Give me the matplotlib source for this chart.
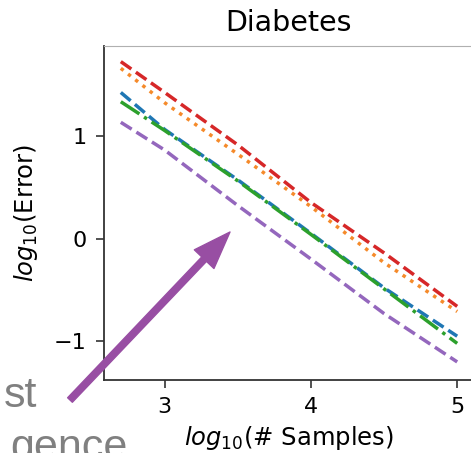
import matplotlib
matplotlib.use("Agg")
import matplotlib.pyplot as plt

# values
log_n = [2.7, 3.0, 3.5, 4.0, 4.5, 5.0]
err_blue = [1.42, 1.06, 0.57, 0.05, -0.48, -0.95]
err_orange = [1.655, 1.32, 0.82, 0.31, -0.235, -0.71]
err_green = [1.33, 1.05, 0.56, 0.04, -0.49, -1.02]
err_red = [1.72, 1.42, 0.91, 0.35, -0.14, -0.66]
err_purple = [1.13, 0.86, 0.32, -0.20, -0.73, -1.20]

W, H = 471, 453
fig = plt.figure(figsize=(W / 100, H / 100), dpi=100)
ax = fig.add_axes([104 / W, 73 / H, 370 / W, 334 / H])

lw = 2.5
ax.plot(log_n, err_blue, color='#1f77b4', ls='--', lw=lw)
ax.plot(log_n, err_orange, color='#f58a2a', ls=':', lw=lw)
ax.plot(log_n, err_green, color='#2ca02c', ls='-.', lw=lw)
ax.plot(log_n, err_red, color='#d62728', ls='--', lw=lw)
ax.plot(log_n, err_purple, color='#9467bd', ls='--', lw=lw)

ax.set_xlim(2.585, 5.115)
ax.set_ylim(-1.376, 1.872)
ax.set_xticks([3, 4, 5])
ax.set_yticks([-1, 0, 1])
ax.tick_params(labelsize=16, length=5.5, width=1.2, pad=7, color='#333333')

for s in ['left', 'bottom']:
    ax.spines[s].set_color('#333333')
    ax.spines[s].set_linewidth(1.3)
ax.spines['top'].set_color('#b0b0b0')
ax.spines['right'].set_visible(False)

ax.set_title('Diabetes', fontsize=20.5, pad=11)
ax.set_xlabel(r'$log_{10}$(# Samples)', fontsize=17.5, labelpad=5)
ax.set_ylabel(r'$log_{10}$(Error)', fontsize=17.5, labelpad=10)

# slide leftovers (cut by the crop, as in the source)
fig.text(37 / W, (H - 407) / H, 'st', ha='right', va='baseline',
         fontsize=31, color='#808080', family='Liberation Sans')
fig.text(128 / W, (H - 459) / H, 'gence', ha='right', va='baseline',
         fontsize=31, color='#808080', family='Liberation Sans')

ax.annotate('', xy=(230, H - 232), xycoords='figure pixels',
            xytext=(70, H - 400), textcoords='figure pixels',
            arrowprops=dict(width=4.7, headwidth=19.5, headlength=27,
                            color='#984ea3'),
            annotation_clip=False)

fig.savefig('out.png', dpi=100)
